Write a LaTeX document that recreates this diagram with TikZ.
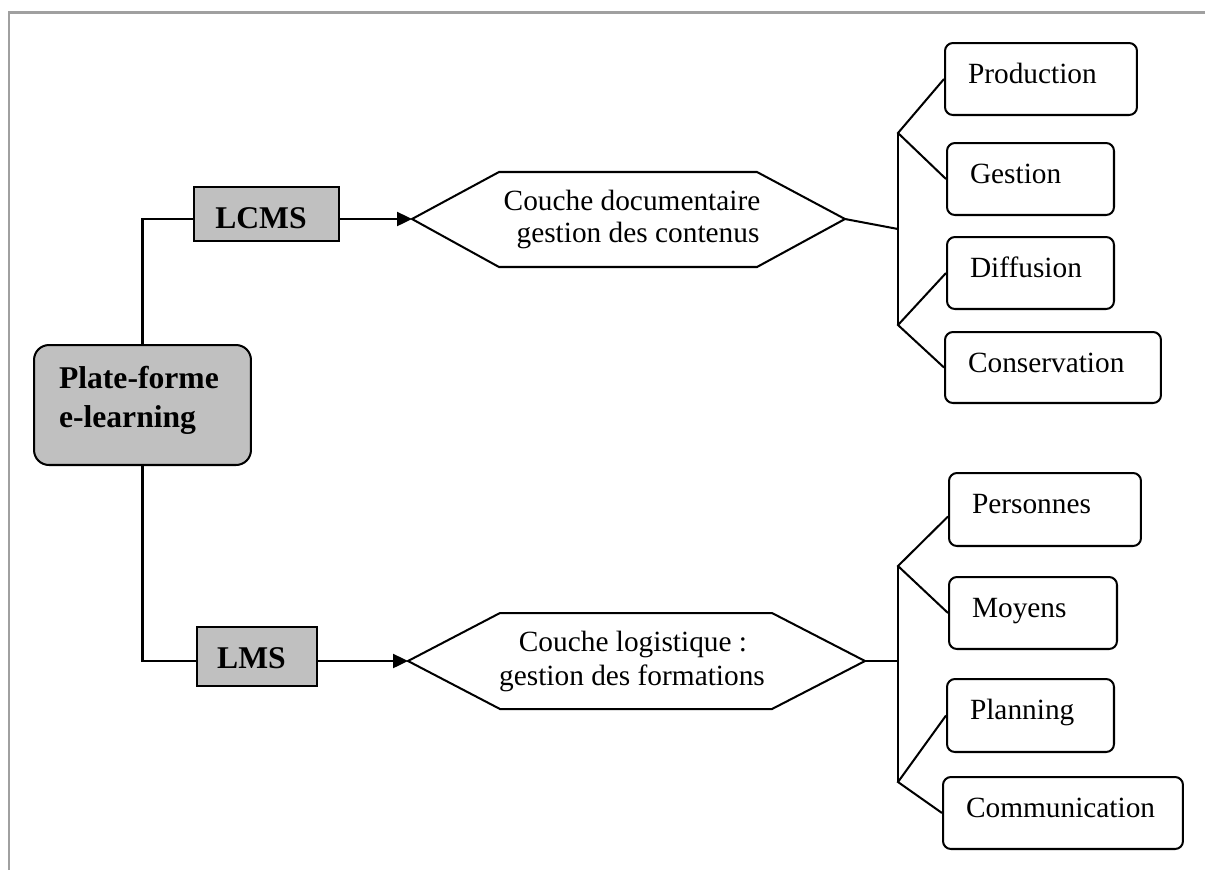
\documentclass[tikz,border=0pt]{standalone}
\usepackage{fontspec}
\setmainfont{Liberation Serif}
\usetikzlibrary{arrows.meta,calc}
\definecolor{boxgray}{HTML}{C0C0C0}
\definecolor{framegray}{HTML}{A0A0A0}
\begin{document}
\begin{tikzpicture}[x=0.02cm,y=-0.02cm,line width=1.15pt,
  graybox/.style={draw, fill=boxgray, rectangle, inner sep=0pt},
  platebox/.style={draw, fill=boxgray, rectangle, rounded corners=8.5pt, inner sep=0pt},
  itembox/.style={draw, rectangle, rounded corners=4.5pt, inner sep=0pt},
  lbl/.style={inner sep=0pt, font=\fontsize{16.7pt}{19pt}\selectfont},
  blbl/.style={inner sep=0pt, font=\bfseries\fontsize{18pt}{22pt}\selectfont},
  arr/.style={-{Triangle[length=8.5pt,width=8pt]}}]
\useasboundingbox (0,0) rectangle (1205,870);
% frame
\draw[framegray, line width=1.2pt] (9,870) -- (9,12.5) -- (1205,12.5);

% main box
\node[platebox, minimum width=4.34cm, minimum height=2.4cm] (plate) at (142.5,405) {};
\node[blbl, anchor=base west] (tplate1) at (58,388) {Plate-forme};
\node[blbl, anchor=base west] (tplate2) at (58,427) {e-learning};

% LCMS / LMS
\node[graybox, minimum width=2.9cm, minimum height=1.08cm] (lcms) at (266.5,214) {};
\node[blbl, anchor=base] (tlcms) at (261,228) {LCMS};
\node[graybox, minimum width=2.4cm, minimum height=1.18cm] (lms) at (257,656.5) {};
\node[blbl, anchor=base] (tlms) at (251.5,668) {LMS};

% hexagons
\coordinate (h1w) at (412,219);
\coordinate (h1e) at (845,219);
\draw[fill=white] (h1w) -- (499,172) -- (757,172) -- (h1e) -- (757,267) -- (499,267) -- cycle;
\node[lbl, anchor=base] (th1a) at (632,210) {Couche documentaire};
\node[lbl, anchor=base] (th1b) at (638,242) {gestion des contenus};

\coordinate (h2w) at (408,661);
\coordinate (h2e) at (865,661);
\draw[fill=white] (h2w) -- (500,613) -- (772,613) -- (h2e) -- (772,709) -- (500,709) -- cycle;
\node[lbl, anchor=base] (th2a) at (633,651) {Couche logistique :};
\node[lbl, anchor=base] (th2b) at (632,685) {gestion des formations};

% connectors left
\draw (plate.north) |- (lcms.west |- h1w);
\draw[arr] (lcms.east |- h1w) -- (h1w);
\draw (plate.south) |- (lms.west |- h2w);
\draw[arr] (lms.east |- h2w) -- (h2w);

% item boxes top
\node[itembox, minimum width=3.84cm, minimum height=1.44cm] (prod) at (1041,79) {};
\node[lbl, anchor=base west] (tprod) at (967,83) {Production};
\node[itembox, minimum width=3.34cm, minimum height=1.44cm] (gest) at (1030.5,179) {};
\node[lbl, anchor=base west] (tgest) at (969,183) {Gestion};
\node[itembox, minimum width=3.34cm, minimum height=1.44cm] (diff) at (1030.5,273) {};
\node[lbl, anchor=base west] (tdiff) at (969,277) {Diffusion};
\node[itembox, minimum width=4.32cm, minimum height=1.42cm] (cons) at (1053,367.5) {};
\node[lbl, anchor=base west] (tcons) at (967,372) {Conservation};

% item boxes bottom
\node[itembox, minimum width=3.84cm, minimum height=1.46cm] (pers) at (1045,509.5) {};
\node[lbl, anchor=base west] (tpers) at (971,513) {Personnes};
\node[itembox, minimum width=3.36cm, minimum height=1.44cm] (moy) at (1033,613) {};
\node[lbl, anchor=base west] (tmoy) at (971,617) {Moyens};
\node[itembox, minimum width=3.34cm, minimum height=1.46cm] (plan) at (1030.5,715.5) {};
\node[lbl, anchor=base west] (tplan) at (969,719) {Planning};
\node[itembox, minimum width=4.8cm, minimum height=1.44cm] (comm) at (1063,813) {};
\node[lbl, anchor=base west] (tcomm) at (965,817) {Communication};

% fans top
\coordinate (s1t) at (898,133);
\coordinate (s1m) at (898,229);
\coordinate (s1b) at (898,325);
\draw (s1t) -- (s1b);
\draw (h1e) -- (s1m);
\draw (prod.west) -- (s1t) -- (gest.west);
\draw (diff.west) -- (s1b) -- (cons.west);

% fans bottom
\coordinate (s2t) at (898,566);
\coordinate (s2b) at (898,782);
\draw (s2t) -- (s2b);
\draw (h2e) -- (s2t |- h2e);
\draw ($(pers.west)+(0,7)$) -- (s2t) -- (moy.west);
\draw (plan.west) -- (s2b) -- (comm.west);
\end{tikzpicture}
\end{document}
